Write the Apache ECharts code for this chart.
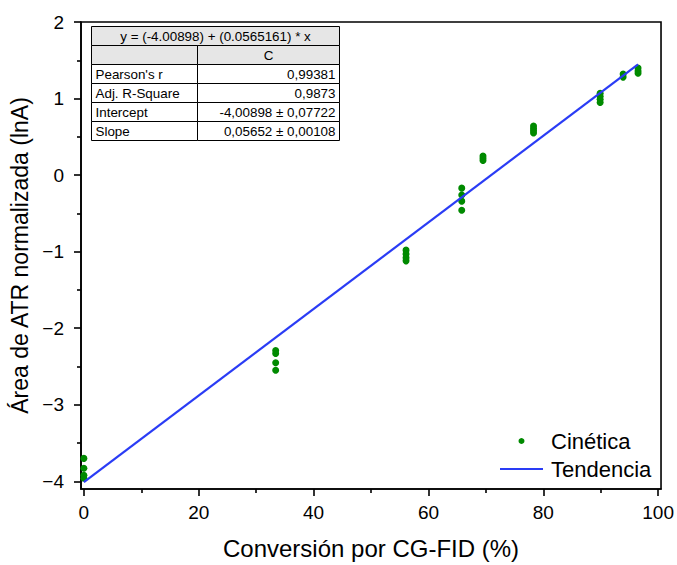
<!DOCTYPE html>
<html>
<head>
<meta charset="utf-8">
<script src="https://cdn.jsdelivr.net/npm/echarts@6/dist/echarts.min.js"></script>
<style>
html,body{margin:0;padding:0;background:#fff;}
#chart{width:677px;height:565px;}
</style>
</head>
<body>
<div id="chart"></div>
<script>
// ---- data ----
const conversion = [0, 0, 0, 0,
  33.4, 33.4, 33.4, 33.4,
  56.1, 56.1, 56.1, 56.1,
  65.8, 65.8, 65.8, 65.8,
  69.5, 69.5, 69.5,
  78.3, 78.3, 78.3, 78.3,
  89.9, 89.9, 89.9, 89.9,
  93.9, 93.9,
  96.5, 96.5, 96.5];
const lnA = [-3.70, -3.83, -3.92, -3.96,
  -2.29, -2.33, -2.45, -2.55,
  -0.98, -1.03, -1.08, -1.12,
  -0.17, -0.26, -0.34, -0.46,
  0.25, 0.22, 0.19,
  0.64, 0.61, 0.58, 0.55,
  1.07, 1.03, 0.99, 0.95,
  1.32, 1.28,
  1.40, 1.36, 1.33];
const trendX = [0, 96.5];
const trendY = [-4.009, 1.445];
const xTicks = [0, 20, 40, 60, 80, 100];
const xMinorTicks = [10, 30, 50, 70, 90];
const yTicks = [-4, -3, -2, -1, 0, 1, 2];
const yMinorTicks = [-3.5, -2.5, -1.5, -0.5, 0.5, 1.5];
const seriesNames = ['Cinética', 'Tendencia'];
const xTitle = 'Conversión por CG-FID (%)';
const yTitle = 'Área de ATR normalizada (lnA)';
const tableEquation = 'y = (-4.00898) + (0.0565161) * x';
const tableColumn = 'C';
const tableLabels = ["Pearson's r", 'Adj. R-Square', 'Intercept', 'Slope'];
const tableValues = ['0,99381', '0,9873', '-4,00898 \u00b1 0,07722', '0,05652 \u00b1 0,00108'];

// ---- chart ----
const FONT = '"Liberation Sans", Arial, sans-serif';
const chart = echarts.init(document.getElementById('chart'), null, {renderer: 'svg'});

const scatterData = conversion.map((x, i) => [x, lnA[i]]);
const trendData = trendX.map((x, i) => [x, trendY[i]]);
const minus = v => String(v).replace('-', '\u2212');
const GREEN = '#008a00';
const BLUE = '#2a3cf5';

// table graphic
const tW = 248, c1 = 106, rh = 19;
const tChildren = [];
for (let r = 0; r < 6; r++) {
  const fill = r < 2 ? '#e6e6e6' : '#ffffff';
  if (r === 0) {
    tChildren.push({type: 'rect', shape: {x: 0, y: 0, width: tW, height: rh}, style: {fill: fill, stroke: '#000', lineWidth: 1}});
  } else {
    tChildren.push({type: 'rect', shape: {x: 0, y: r * rh, width: c1, height: rh}, style: {fill: fill, stroke: '#000', lineWidth: 1}});
    tChildren.push({type: 'rect', shape: {x: c1, y: r * rh, width: tW - c1, height: rh}, style: {fill: fill, stroke: '#000', lineWidth: 1}});
  }
}
const tText = (text, x, y, align) => ({type: 'text', z: 10, style: {text: text, x: x, y: y, fill: '#000', font: '13.4px ' + FONT, align: align, textAlign: align, verticalAlign: 'middle', textVerticalAlign: 'middle'}});
tChildren.push(tText(tableEquation, tW / 2, rh / 2, 'center'));
tChildren.push(tText(tableColumn, c1 + (tW - c1) / 2, rh * 1.5, 'center'));
tableLabels.forEach((lab, i) => {
  tChildren.push(tText(lab, 4, rh * (2.5 + i), 'left'));
  tChildren.push(tText(tableValues[i], tW - 4, rh * (2.5 + i), 'right'));
});

const axisCommon = {
  type: 'value',
  splitLine: {show: false},
  axisLine: {show: true, onZero: false, lineStyle: {color: '#000', width: 1.6}},
};

chart.setOption({
  animation: false,
  backgroundColor: '#fff',
  grid: {left: 81, right: 13, top: 22, bottom: 73, show: true, borderColor: '#000', borderWidth: 1.6, backgroundColor: 'transparent'},
  xAxis: [
    Object.assign({}, axisCommon, {
      min: -0.5, max: 100.5, position: 'bottom',
      axisTick: {show: true, customValues: xTicks, length: 7, lineStyle: {color: '#000', width: 1.6}},
      axisLabel: {customValues: xTicks, color: '#000', fontSize: 19, fontFamily: FONT, margin: 14},
      name: xTitle, nameLocation: 'middle', nameGap: 47,
      nameTextStyle: {color: '#000', fontSize: 24, fontFamily: FONT}
    }),
    Object.assign({}, axisCommon, {
      min: -0.5, max: 100.5, position: 'bottom',
      axisLine: {show: false, onZero: false},
      axisTick: {show: true, customValues: xMinorTicks, length: 4, lineStyle: {color: '#000', width: 1.6}},
      axisLabel: {show: false}
    })
  ],
  yAxis: [
    Object.assign({}, axisCommon, {
      min: -4.1, max: 2, position: 'left',
      axisTick: {show: true, customValues: yTicks, length: 7, lineStyle: {color: '#000', width: 1.6}},
      axisLabel: {customValues: yTicks, color: '#000', fontSize: 19, fontFamily: FONT, margin: 17, formatter: minus},
      name: yTitle, nameLocation: 'middle', nameGap: 47, nameRotate: 90,
      nameTextStyle: {color: '#000', fontSize: 23, fontFamily: FONT}
    }),
    Object.assign({}, axisCommon, {
      min: -4.1, max: 2, position: 'left',
      axisLine: {show: false, onZero: false},
      axisTick: {show: true, customValues: yMinorTicks, length: 4, lineStyle: {color: '#000', width: 1.6}},
      axisLabel: {show: false}
    })
  ],
  legend: {
    orient: 'vertical', left: 495, top: 425, itemWidth: 43, itemHeight: 6, itemGap: 6,
    textStyle: {color: '#000', fontSize: 22, fontFamily: FONT, padding: [0, 0, 0, 3]},
    data: [
      {name: seriesNames[0], icon: 'circle', itemStyle: {color: GREEN, opacity: 1}},
      {name: seriesNames[1], icon: 'path://M0,0L43,0L43,2L0,2Z', itemStyle: {color: BLUE}}
    ]
  },
  series: [
    {name: seriesNames[0], type: 'scatter', data: scatterData, symbol: 'circle', symbolSize: 7,
     itemStyle: {color: GREEN, opacity: 1}, z: 3},
    {name: seriesNames[1], type: 'line', data: trendData, symbol: 'none', showSymbol: false,
     lineStyle: {color: BLUE, width: 2.2}, itemStyle: {color: BLUE}, z: 4}
  ],
  graphic: [{type: 'group', left: 91, top: 26, children: tChildren}]
});
</script>
</body>
</html>
